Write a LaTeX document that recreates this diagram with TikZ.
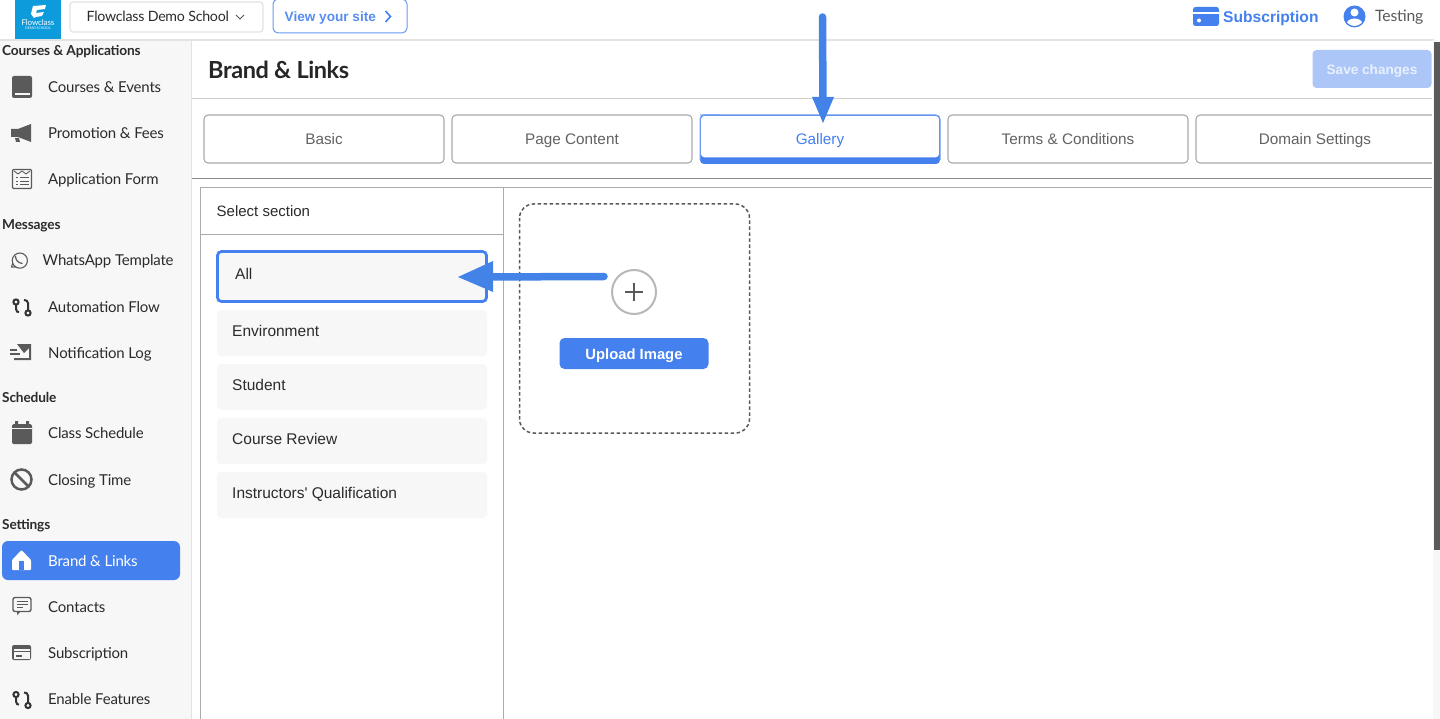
\documentclass[tikz,border=0pt]{standalone}
\usepackage{fontspec}
\setmainfont{Lato}[LetterSpace=-1.2]
\newfontfamily\uifont{Liberation Sans}
\newfontfamily\tightfont{Lato}[LetterSpace=-1.8]
\usetikzlibrary{arrows.meta,calc}
\definecolor{brand}{HTML}{4480EE}
\definecolor{arrowblue}{HTML}{4382E6}
\definecolor{side}{HTML}{F7F7F7}
\definecolor{ink}{HTML}{2B2B2B}
\definecolor{icon}{HTML}{5A5A5A}
\definecolor{edge}{HTML}{ABABAB}
\definecolor{pale}{HTML}{E3E3E3}
\definecolor{logoblue}{HTML}{0E9BDC}
\tikzset{
 x=1pt,y=-1pt,
 sidelabel/.style={anchor=west,inner sep=0,yshift=-1.2pt,text height=11pt,text depth=3pt,font=\fontsize{15}{15}\selectfont,text=ink},
 sidehead/.style={anchor=west,inner sep=0,yshift=-2pt,text height=10pt,text depth=3pt,font=\fontsize{13.7}{14}\selectfont\bfseries,text=ink},
 tabbox/.style={draw=edge,line width=1.1pt,rounded corners=4pt},
 tablabel/.style={inner sep=0,yshift=-2pt,text height=11pt,text depth=3pt,font=\uifont\fontsize{15.3}{15}\selectfont,text=icon!95},
 rowbox/.style={fill=side,rounded corners=4pt},
 rowlabel/.style={anchor=west,inner sep=0,yshift=-2pt,text height=11pt,text depth=3pt,font=\uifont\fontsize{15.5}{15}\selectfont,text=ink},
 iconline/.style={draw=icon,line width=1.4pt,line join=round},
 iconfill/.style={fill=icon},
 flowline/.style={draw=black!80,line width=2pt},
 callout/.style={draw=arrowblue,line width=7.5pt,line cap=round},
}
\begin{document}
\begin{tikzpicture}
\useasboundingbox (0,0) rectangle (1440,719);
\fill[white] (0,0) rectangle (1440,719);
% sidebar & chrome
\fill[side] (0,40) rectangle (191,719);
\draw[pale,line width=1.5pt] (0,40) -- (1434,40);
\draw[pale,line width=1.5pt] (191.5,40) -- (191.5,719);
\draw[pale!80!gray,line width=1pt] (192,98.5) -- (1432,98.5);
\draw[edge!80!black,line width=1pt] (192,178.5) -- (1432,178.5);
\fill[side] (1433,40) rectangle (1440,719);
\fill[icon] (1434,42) rectangle (1440,550);
% logo
\fill[logoblue] (15,0) rectangle (61,39);
\fill[white] (33,6) -- (46,5) -- (45,9) -- (37,10) -- (36,13) -- (44,12) -- (42,16) -- (36,17) -- (34,18) -- (31,14) -- cycle;
\node[inner sep=0,text=white,font=\fontsize{8}{8}\selectfont] (logoname) at (38,23) {Flowclass};
\node[inner sep=0,text=white,font=\fontsize{3.5}{4}\selectfont] (logosub) at (38,28) {DEMO SCHOOL};
% school picker
\node[draw=pale,line width=1.2pt,rounded corners=3pt,minimum width=193pt,minimum height=30pt,inner sep=0] (school) at (166.5,17) {};
\node[anchor=west,inner sep=0,text height=11pt,text depth=3pt,font=\tightfont\fontsize{14.2}{15}\selectfont,text=ink] (schoolname) at (86.5,18) {Flowclass Demo School};
\draw[icon,line width=.8pt] (236,15) -- (240,19) -- (244,15);
% view site
\node[draw=brand!80,line width=1pt,rounded corners=5pt,minimum width=134pt,minimum height=34pt,inner sep=0] (site) at (340,16) {};
\node[anchor=west,inner sep=0,text height=11pt,text depth=3pt,font=\uifont\fontsize{13.6}{15}\selectfont\bfseries,text=brand!90] (sitelabel) at (284.5,18) {View your site};
\draw[brand,line width=1.6pt] (385.5,11) -- (390.5,16.5) -- (385.5,22);
% top right
\fill[brand,rounded corners=2.5pt] (1193,7) rectangle (1219,26);
\fill[white] (1193,12.2) rectangle (1219,13.6);
\fill[white] (1199,20.5) circle (2);
\node[anchor=west,inner sep=0,text height=11pt,text depth=3pt,font=\uifont\fontsize{15.6}{16}\selectfont\bfseries,text=brand] (subs) at (1223,18.5) {Subscription};
\fill[brand] (1354.5,16.5) circle (11);
\fill[white] (1354.5,12.5) circle (4);
\begin{scope}
\clip (1354.5,16.5) circle (9.5);
\fill[white] (1354.5,25) ellipse (8.5 and 6.5);
\end{scope}
\node[anchor=west,inner sep=0,text height=11pt,text depth=3pt,font=\fontsize{15.7}{16}\selectfont,text=icon] (user) at (1375,18) {Testing};
% heading
\node[anchor=west,inner sep=0,font=\tightfont\fontsize{23.5}{24}\selectfont\bfseries,text=black!85] (title) at (208,69.5) {Brand \& Links};
\node[fill=brand!45,rounded corners=4pt,minimum width=119pt,minimum height=38pt,inner sep=0] (save) at (1372,69) {};
\node[inner sep=0,text height=10pt,text depth=3pt,font=\uifont\fontsize{13.6}{14}\selectfont\bfseries,text=white!88!brand] (savelabel) at (1372,71.5) {Save changes};
% tabs
\node[tabbox,minimum width=240pt,minimum height=48pt,inner sep=0] (tabA) at (324,139) {};
\node[tablabel] at (324,139) {Basic};
\node[tabbox,minimum width=240pt,minimum height=48pt,inner sep=0] (tabB) at (572,139) {};
\node[tablabel] at (572,139) {Page Content};
\fill[brand,rounded corners=4pt] (700,115) rectangle (940,164);
\fill[white,rounded corners=4pt] (700.8,115.8) rectangle (939.2,157.5);
\draw[brand!75,line width=1pt,rounded corners=4pt] (700,115) -- (940,115) -- (940,160);
\draw[brand!75,line width=1pt,rounded corners=4pt] (700,160) -- (700,115) -- (720,115);
\coordinate (tabC) at (820,115);
\node[tablabel,text=brand] (gallery) at (820,139) {Gallery};
\node[tabbox,minimum width=240pt,minimum height=48pt,inner sep=0] (tabD) at (1068,139) {};
\node[tablabel] at (1068,139) {Terms \& Conditions};
\draw[edge,line width=1.1pt,rounded corners=4pt] (1432,115) -- (1196,115) -- (1196,163) -- (1432,163);
\node[tablabel] (tabE) at (1315,139) {Domain Settings};
% panel
\draw[edge,line width=1.1pt] (1432,187.5) -- (200.5,187.5) -- (200.5,719);
\draw[edge,line width=1.1pt] (503.5,187.5) -- (503.5,719);
\draw[edge,line width=1.1pt] (200.5,234.5) -- (503.5,234.5);
\node[rowlabel,font=\uifont\fontsize{15}{15}\selectfont] (selecthead) at (216.5,210.5) {Select section};
% rows
\node[rowbox,draw=brand,line width=2.8pt,minimum width=269pt,minimum height=50pt,inner sep=0] (rowAll) at (352,276.5) {};
\node[rowlabel] at (235,273.5) {All};
\fill[rowbox] (217,310) rectangle (487,356);
\node[rowlabel] at (232,330) {Environment};
\fill[rowbox] (217,364) rectangle (487,410);
\node[rowlabel] at (232,384) {Student};
\fill[rowbox] (217,418) rectangle (487,464);
\node[rowlabel] at (232,438) {Course Review};
\fill[rowbox] (217,472) rectangle (487,518);
\node[rowlabel] at (232,492) {Instructors' Qualification};
% upload
\draw[icon,line width=1.5pt,dash pattern=on 3.5pt off 2.5pt,rounded corners=14pt] (519.5,204) rectangle (749.5,433);
\node[circle,draw=black!28,line width=2pt,minimum size=44pt,inner sep=0,fill=white] (plus) at (634,292) {};
\draw[icon,line width=1.7pt] (625,292) -- (643,292) (634,283) -- (634,301);
\node[fill=brand,rounded corners=5pt,minimum width=149pt,minimum height=31pt,inner sep=0] (upload) at (634,353.5) {};
\node[inner sep=0,text height=11pt,text depth=3pt,text=white,font=\uifont\fontsize{14.8}{14}\selectfont\bfseries] (uploadlabel) at (634,355) {Upload Image};
% sidebar headings
\node[sidehead] (h1) at (2,50.5) {Courses \& Applications};
\node[sidehead] (h2) at (2,224) {Messages};
\node[sidehead] (h3) at (2,397) {Schedule};
\node[sidehead] (h4) at (2,524) {Settings};
% active item
\node[fill=brand,rounded corners=6pt,minimum width=178pt,minimum height=39pt,inner sep=0] (active) at (91,560.5) {};
% sidebar labels
\node[sidelabel] at (48,87.5) {Courses \& Events};
\node[sidelabel] at (48,133.5) {Promotion \& Fees};
\node[sidelabel] at (48,179.5) {Application Form};
\node[sidelabel] at (42.5,260.5) {WhatsApp Template};
\node[sidelabel] at (48,307) {Automation Flow};
\node[sidelabel] at (48,353) {Notification Log};
\node[sidelabel] at (48,433.5) {Class Schedule};
\node[sidelabel] at (48,480) {Closing Time};
\node[sidelabel,text=white] at (48,561) {Brand \& Links};
\node[sidelabel] at (48,607) {Contacts};
\node[sidelabel] at (48,653) {Subscription};
\node[sidelabel] at (48,699.5) {Enable Features};
% icons: book
\fill[iconfill,rounded corners=2pt] (12,76) rectangle (32,98);
\fill[side] (15,93) rectangle (30,95);
% megaphone
\fill[iconfill] (11,129) -- (18,129) -- (31,124) -- (31,142) -- (18,137) -- (11,137) -- cycle;
\fill[iconfill] (15,138) -- (19,138) -- (20,142) -- (16,142) -- cycle;
% form
\draw[iconline,rounded corners=1pt] (12.5,169.5) rectangle (31.5,188.5);
\draw[iconline,line width=.9pt] (14,171) -- (18,174) -- (22,171) -- (26,174) -- (30,171);
\draw[iconline,line width=1pt] (16,178) -- (18,178) (20,178) -- (29,178) (16,181.5) -- (18,181.5) (20,181.5) -- (29,181.5) (16,185) -- (18,185) (20,185) -- (29,185);
% whatsapp
\draw[iconline,line width=1.1pt] (11.5,267) -- (12.7,263.2) arc[start angle=160,end angle=-240,radius=7.6] -- cycle;
\draw[iconline,line width=1.2pt] (15.5,256) .. controls (15.5,260) and (18,263) .. (22.5,263.5);
% automation
\draw[flowline] (16,302) circle (2.6) (28,313) circle (2.6);
\draw[flowline] (16,304.6) -- (16,309) .. controls (16,312) and (18,312) .. (19,312);
\draw[flowline] (28,310.4) -- (28,303) .. controls (28,301) and (26,300) .. (24,300);
% notification
\fill[iconfill] (17,344) -- (31,344) -- (31,360) -- (14,360) -- (14,358) -- (29,358) -- (29,348) -- (24,353) -- cycle;
\draw[iconline,line width=1.2pt] (10,350) -- (17,350) (10,354) -- (20,354);
% calendar
\fill[iconfill,rounded corners=1.5pt] (12,424) rectangle (32,444);
\fill[iconfill] (15,421) rectangle (18,426) (26,421) rectangle (29,426);
\draw[side,line width=1pt] (12,428.5) -- (32,428.5);
% no sign
\draw[icon,line width=2.5pt] (21.5,479.5) circle (10);
\draw[icon,line width=2.5pt] (14.5,472.5) -- (28.5,486.5);
% home
\fill[white,rounded corners=1pt] (12,560) -- (21.5,550) -- (31,560) -- (31,570) -- (12,570) -- cycle;
\fill[brand] (19,561) rectangle (24,570);
% contact
\draw[iconline,rounded corners=2pt] (13,597.5) rectangle (31,611.5);
\fill[icon] (17,611) -- (21,611) -- (17,615) -- cycle;
\draw[iconline,line width=1.1pt] (16.5,601.5) -- (27.5,601.5) (16.5,604.5) -- (27.5,604.5) (16.5,607.5) -- (23,607.5);
% card
\fill[iconfill,rounded corners=2pt] (12,645) rectangle (31,660);
\fill[side] (13.5,648.5) rectangle (29.5,650.5);
\fill[side] (13.5,652) rectangle (29.5,658.5);
\fill[iconfill] (16,655) rectangle (22,656.5);
% automation (features)
\draw[flowline] (16,694.5) circle (2.6) (28,705.5) circle (2.6);
\draw[flowline] (16,697.1) -- (16,701.5) .. controls (16,704.5) and (18,704.5) .. (19,704.5);
\draw[flowline] (28,702.9) -- (28,695.5) .. controls (28,693.5) and (26,692.5) .. (24,692.5);
% callout arrows
\coordinate (arrowTop) at (822.5,17);
\coordinate (arrowTip) at (823,123);
\draw[callout] (arrowTop) -- ($(arrowTip)+(0,-14)$);
\fill[arrowblue] (arrowTip) -- (812,97) -- (834,97) -- cycle;
\coordinate (arrowStart) at (604,276.5);
\coordinate (arrowEnd) at (458,277);
\draw[callout] (arrowStart) -- ($(arrowEnd)+(20,0)$);
\fill[arrowblue] (arrowEnd) -- (493,261) -- (493,292) -- cycle;
\end{tikzpicture}
\end{document}
